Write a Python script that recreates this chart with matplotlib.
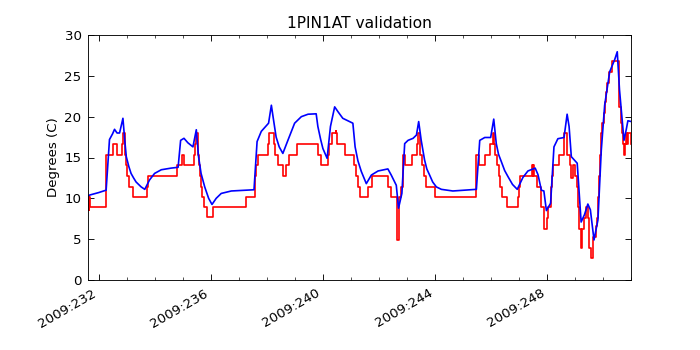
import matplotlib
matplotlib.use("Agg")
import matplotlib.pyplot as plt
from matplotlib.ticker import MultipleLocator, FuncFormatter

# day of year 2009 -> value (deg C)
model_days = [231.63, 231.68, 232.0, 232.27, 232.39, 232.5, 232.57, 232.66, 232.75, 232.87,
              232.93, 232.99, 233.08, 233.16, 233.25, 233.34, 233.52, 233.65, 233.82, 234.0,
              234.24, 234.59, 234.84, 234.93, 235.05, 235.19, 235.37, 235.49, 235.57, 235.66,
              235.79, 235.93, 236.05, 236.2, 236.38, 236.74, 237.55, 237.66, 237.81, 238.07,
              238.17, 238.23, 238.34, 238.45, 238.58, 238.76, 239.0, 239.24, 239.48, 239.77,
              239.83, 239.93, 240.01, 240.16, 240.28, 240.43, 240.55, 240.72, 241.02, 241.08,
              241.16, 241.26, 241.38, 241.56, 241.74, 241.98, 242.33, 242.45, 242.63, 242.71,
              242.83, 242.93, 243.05, 243.23, 243.35, 243.43, 243.52, 243.64, 243.72, 243.82,
              243.93, 244.06, 244.24, 244.65, 245.49, 245.61, 245.79, 246.0, 246.11, 246.2,
              246.28, 246.38, 246.5, 246.62, 246.78, 246.95, 247.15, 247.33, 247.59, 247.69,
              247.81, 247.9, 247.99, 248.14, 248.26, 248.4, 248.62, 248.73, 248.8, 248.88,
              249.09, 249.23, 249.35, 249.47, 249.56, 249.69, 249.83, 249.95, 250.07, 250.25,
              250.43, 250.52, 250.6, 250.76, 250.84, 250.9, 251.02]
model_temp = [10.3, 10.4, 10.7, 11.0, 17.2, 17.9, 18.45, 18.0, 18.0, 19.8,
              17.3, 15.1, 13.9, 13.05, 12.5, 12.0, 11.4, 11.1, 12.25, 13.05,
              13.5, 13.7, 13.8, 17.1, 17.35, 16.8, 16.3, 18.4, 15.1, 13.05,
              11.4, 10.0, 9.25, 10.0, 10.6, 10.9, 11.05, 16.95, 18.2, 19.2,
              21.4, 20.0, 17.5, 16.3, 15.5, 17.1, 19.2, 20.0, 20.3, 20.35,
              18.8, 17.2, 16.1, 14.9, 18.8, 21.2, 20.6, 19.8, 19.3, 19.2,
              16.3, 14.6, 13.3, 11.8, 12.85, 13.35, 13.6, 12.85, 11.6, 8.8,
              10.6, 16.7, 17.1, 17.35, 17.75, 19.4, 17.1, 14.7, 13.6, 12.85,
              12.0, 11.4, 11.1, 10.9, 11.1, 17.1, 17.45, 17.45, 19.7, 16.7,
              15.4, 14.5, 13.4, 12.65, 11.7, 11.1, 12.55, 13.35, 13.7, 12.9,
              11.0, 10.9, 8.5, 9.4, 16.3, 17.3, 17.45, 20.3, 18.8, 15.1,
              14.3, 7.1, 8.0, 9.3, 8.6, 4.9, 7.35, 15.9, 21.4, 25.5,
              27.0, 27.95, 23.3, 17.1, 18.4, 19.5, 19.4]

obs_days = [231.63, 231.65, 231.67, 231.69, 232.26, 232.53, 232.66, 232.82, 232.89, 232.95,
            232.98, 233.01, 233.10, 233.22, 233.73, 233.78, 234.80, 234.97, 235.05, 235.39,
            235.44, 235.48, 235.54, 235.58, 235.61, 235.65, 235.70, 235.75, 235.86, 236.08,
            237.28, 237.58, 237.61, 237.68, 238.06, 238.09, 238.28, 238.31, 238.42, 238.57,
            238.68, 238.80, 239.08, 239.85, 239.94, 240.18, 240.24, 240.32, 240.47, 240.49,
            240.53, 240.80, 241.11, 241.20, 241.28, 241.33, 241.61, 241.75, 242.34, 242.45,
            242.64, 242.67, 242.71, 242.74, 242.80, 242.87, 242.95, 243.18, 243.36, 243.41,
            243.46, 243.55, 243.62, 243.70, 244.00, 245.48, 245.60, 245.80, 245.97, 246.08,
            246.12, 246.17, 246.22, 246.28, 246.34, 246.42, 246.58, 246.97, 247.01, 247.06,
            247.48, 247.50, 247.52, 247.55, 247.66, 247.78, 247.92, 248.02, 248.06, 248.14,
            248.16, 248.19, 248.22, 248.45, 248.62, 248.73, 248.82, 248.88, 248.93, 249.00,
            249.08, 249.12, 249.16, 249.21, 249.27, 249.32, 249.40, 249.47, 249.52, 249.57,
            249.67, 249.75, 249.80, 249.84, 249.88, 249.91, 249.95, 249.99, 250.04, 250.09,
            250.13, 250.17, 250.22, 250.35, 250.57, 250.60, 250.64, 250.69, 250.73, 250.76,
            250.80, 250.84, 250.87, 250.91, 251.0]
obs_temp = [10.2, 8.6, 10.2, 9.0, 15.3, 16.65, 15.3, 16.65, 17.96, 15.3,
            14.1, 12.7, 11.4, 10.2, 11.4, 12.7, 14.1, 15.3, 14.1, 15.3,
            16.65, 17.96, 15.3, 14.1, 12.7, 11.4, 10.2, 9.0, 7.7, 9.0,
            10.2, 12.7, 14.1, 15.3, 16.65, 17.96, 16.65, 15.3, 14.1, 12.7,
            14.1, 15.3, 16.65, 15.3, 14.1, 15.3, 16.65, 17.96, 18.3, 17.96,
            16.65, 15.3, 14.1, 12.7, 11.4, 10.2, 11.4, 12.7, 11.4, 10.2,
            7.6, 4.9, 8.8, 10.2, 11.4, 15.3, 14.1, 15.3, 16.65, 17.96,
            15.3, 14.1, 12.7, 11.4, 10.2, 15.3, 14.1, 15.3, 16.65, 17.96,
            16.65, 15.3, 14.1, 12.7, 11.4, 10.2, 9.0, 10.2, 11.4, 12.7,
            14.1, 12.7, 14.1, 12.7, 11.4, 9.0, 6.3, 7.6, 9.0, 10.2,
            11.4, 12.7, 14.1, 15.3, 17.96, 15.3, 14.1, 12.45, 14.1, 12.7,
            11.4, 9.0, 6.3, 3.9, 6.3, 7.6, 9.0, 7.6, 3.9, 2.65,
            5.3, 6.6, 7.6, 10.2, 12.7, 15.3, 17.96, 19.2, 20.5, 21.8,
            23.0, 24.1, 25.5, 26.85, 24.1, 21.2, 19.2, 17.96, 16.65, 15.3,
            16.65, 17.96, 16.65, 17.96, 16.65]

fig, ax = plt.subplots(figsize=(8.75, 4.375), dpi=80)
fig.subplots_adjust(left=0.126, right=0.901, top=0.9, bottom=0.2)

ax.step(obs_days, obs_temp, where='post', color='red', lw=1.5)
ax.plot(model_days, model_temp, color='blue', lw=1.5)

ax.set_xlim(231.63, 251.0)
ax.set_ylim(0, 30)
ax.xaxis.set_major_locator(MultipleLocator(4))
ax.xaxis.set_minor_locator(MultipleLocator(1))
ax.yaxis.set_major_locator(MultipleLocator(5))
ax.xaxis.set_major_formatter(FuncFormatter(lambda x, pos: '2009:%d' % round(x)))
ax.tick_params(which='both', direction='in', top=True, right=True, labelsize=12)
ax.tick_params(which='major', length=5.5, pad=6)
ax.tick_params(which='minor', length=3)
for lbl in ax.get_xticklabels():
    lbl.set_rotation(30)
    lbl.set_ha('right')

ax.set_title('1PIN1AT validation', fontsize=14)
ax.set_ylabel('Degrees (C)', fontsize=12)

fig.savefig('out.png', dpi=80)
